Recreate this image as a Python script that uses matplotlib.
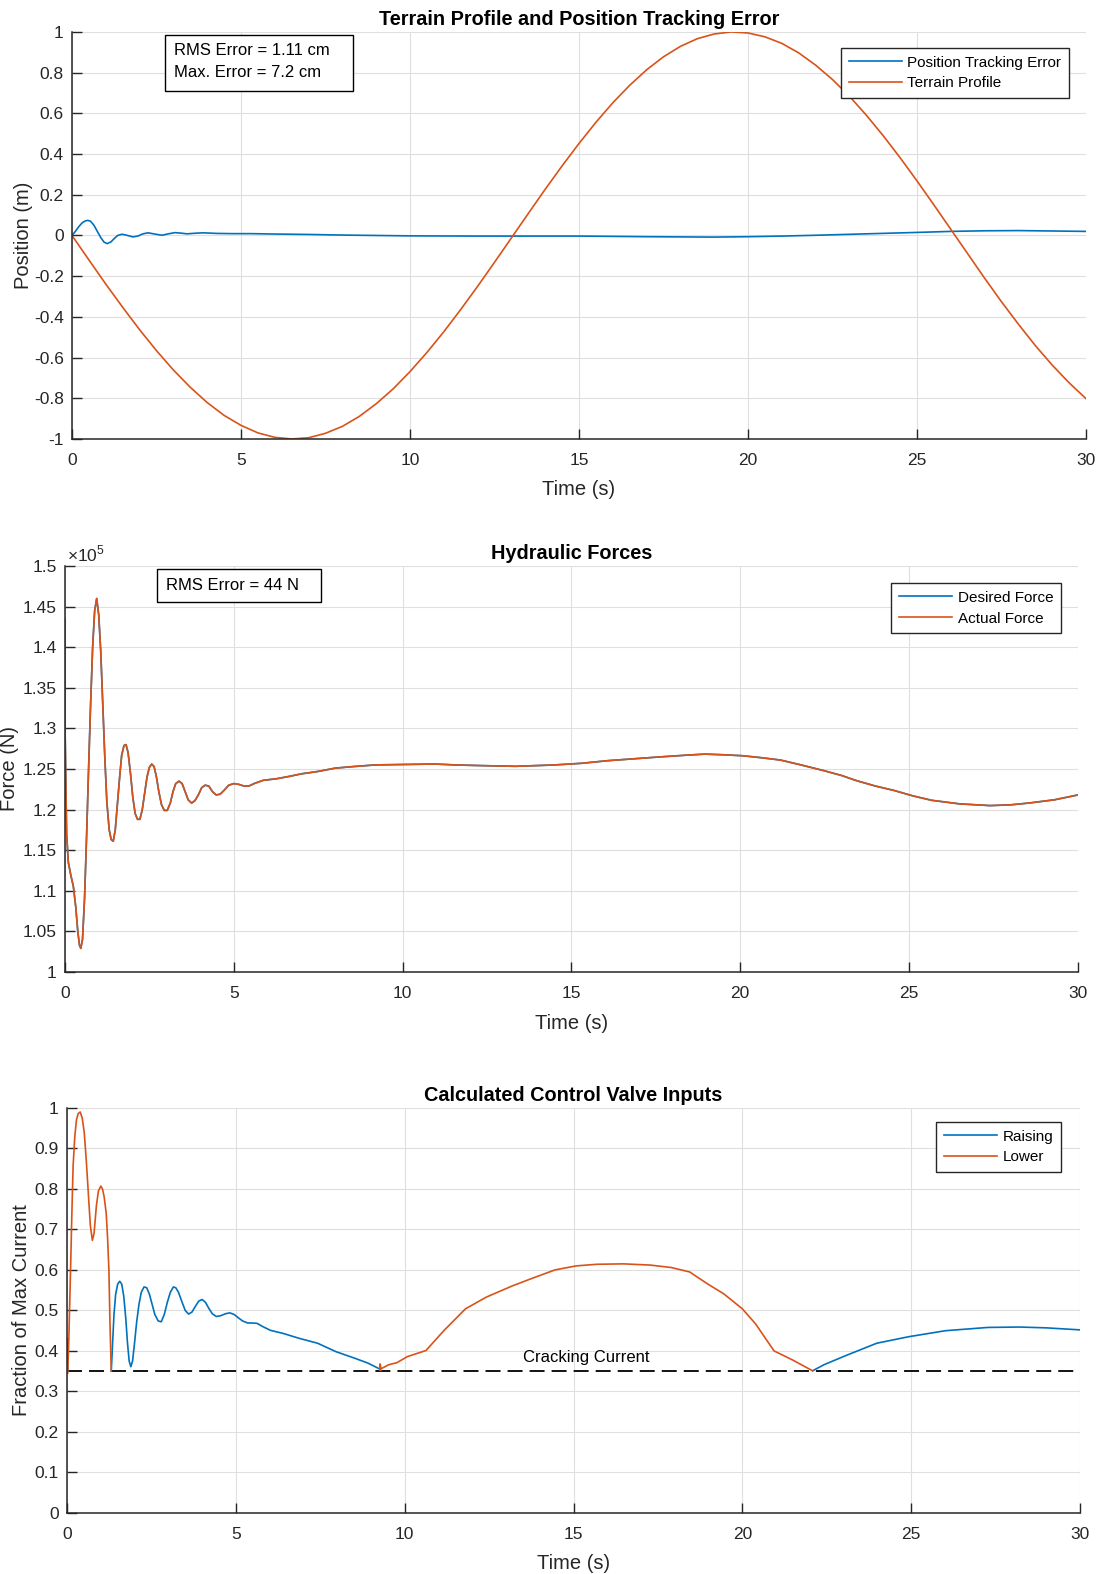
import numpy as np
import matplotlib
matplotlib.use("Agg")
import matplotlib.pyplot as plt
from matplotlib.patches import Rectangle

# ---- panel 1: terrain profile and position tracking error ----
t_terrain = [0, 0.5, 1, 1.5, 2, 2.5, 3, 3.5, 4, 4.5, 5, 5.5, 6, 6.5, 7, 7.5, 8, 8.5, 9, 9.5,
             10, 10.5, 11, 11.5, 12, 12.5, 13, 13.5, 14, 14.5, 15, 15.5, 16, 16.5, 17, 17.5,
             18, 18.5, 19, 19.5, 20, 20.5, 21, 21.5, 22, 22.5, 23, 23.5, 24, 24.5, 25, 25.5,
             26, 26.5, 27, 27.5, 28, 28.5, 29, 29.5, 30]
terrain = [0, -0.120, -0.239, -0.353, -0.463, -0.566, -0.661, -0.746, -0.821, -0.884, -0.933,
           -0.970, -0.992, -1.0, -0.994, -0.972, -0.938, -0.889, -0.827, -0.754, -0.669,
           -0.575, -0.473, -0.364, -0.250, -0.132, -0.012, 0.108, 0.227, 0.342, 0.452, 0.556,
           0.652, 0.738, 0.814, 0.878, 0.929, 0.967, 0.990, 1.0, 0.995, 0.976, 0.944, 0.897,
           0.837, 0.766, 0.684, 0.591, 0.490, 0.382, 0.268, 0.150, 0.030, -0.090, -0.210,
           -0.326, -0.436, -0.541, -0.637, -0.724, -0.802]

t_err = [0, 0.1, 0.2, 0.3, 0.4, 0.47, 0.55, 0.65, 0.75, 0.85, 0.95, 1.04, 1.15, 1.25, 1.35,
         1.48, 1.6, 1.8, 1.95, 2.1, 2.25, 2.45, 2.66, 2.85, 3.05, 3.25, 3.4, 3.65, 3.88, 4.3,
         4.76, 5.3, 6, 7, 8, 10, 12, 15, 17, 19, 20, 21, 22, 23.5, 25, 26, 27, 28, 29, 30]
pos_err = [0, 0.02, 0.043, 0.062, 0.072, 0.074, 0.07, 0.05, 0.02, -0.01, -0.033, -0.04,
           -0.032, -0.015, 0.0, 0.006, 0.002, -0.007, -0.003, 0.008, 0.013, 0.007, 0.001,
           0.008, 0.014, 0.011, 0.008, 0.011, 0.013, 0.01, 0.009, 0.009, 0.007, 0.005, 0.002,
           -0.002, -0.003, -0.003, -0.006, -0.008, -0.006, -0.003, 0.001, 0.008, 0.015, 0.02,
           0.023, 0.024, 0.022, 0.02]

# ---- panel 2: hydraulic forces (x 1e5 N) ----
t_force = [0, 0.02, 0.05, 0.1, 0.17, 0.25, 0.32, 0.38, 0.43, 0.47, 0.52, 0.58, 0.64, 0.7,
           0.76, 0.82, 0.88, 0.94, 1.0, 1.06, 1.12, 1.18, 1.24, 1.31, 1.37, 1.43, 1.49, 1.55,
           1.62, 1.68, 1.75, 1.81, 1.87, 1.94, 2.01, 2.08, 2.15, 2.22, 2.29, 2.36, 2.43, 2.5,
           2.57, 2.64, 2.71, 2.78, 2.86, 2.94, 3.03, 3.12, 3.2, 3.28, 3.38, 3.47, 3.56, 3.65,
           3.75, 3.85, 3.95, 4.05, 4.15, 4.26, 4.37, 4.48, 4.6, 4.72, 4.85, 5.0, 5.15, 5.3,
           5.45, 5.6, 5.87, 6.27, 6.66, 7.0, 7.5, 8.0, 8.55, 9.19, 10.0, 10.95, 11.6, 12.5,
           13.35, 14.47, 15.3, 16.07, 17.0, 17.67, 18.4, 18.95, 19.5, 20.07, 20.6, 21.19,
           21.8, 22.47, 23.0, 23.43, 24.0, 24.55, 25.1, 25.67, 26.5, 27.4, 28.0, 28.56,
           29.3, 30]
force_actual = [1.311, 1.25, 1.17, 1.135, 1.12, 1.105, 1.08, 1.05, 1.033, 1.029, 1.04, 1.09,
                1.166, 1.25, 1.33, 1.40, 1.445, 1.46, 1.44, 1.395, 1.33, 1.265, 1.21, 1.175,
                1.163, 1.161, 1.175, 1.205, 1.24, 1.267, 1.279, 1.28, 1.27, 1.245, 1.215,
                1.195, 1.188, 1.188, 1.2, 1.22, 1.24, 1.252, 1.256, 1.253, 1.24, 1.222, 1.206,
                1.199, 1.199, 1.208, 1.222, 1.232, 1.235, 1.232, 1.222, 1.212, 1.208, 1.211,
                1.218, 1.227, 1.23, 1.229, 1.222, 1.218, 1.219, 1.224, 1.23, 1.232, 1.231,
                1.229, 1.229, 1.232, 1.236, 1.238, 1.241, 1.244, 1.247, 1.251, 1.253, 1.255,
                1.2555, 1.2561, 1.2549, 1.254, 1.2533, 1.2549, 1.257, 1.2602, 1.263, 1.265,
                1.267, 1.2683, 1.2675, 1.2663, 1.264, 1.261, 1.255, 1.248, 1.242, 1.2358,
                1.229, 1.2236, 1.217, 1.2114, 1.207, 1.2049, 1.2058, 1.2081, 1.212, 1.218]
# desired force: initial spike, then identical to the actual force
t_force_des = [0] + t_force
force_desired = [1.435] + force_actual

# ---- panel 3: valve inputs (NaN = valve inactive) ----
t_raise = [0, 0.02, 0.03, 1.31, 1.35, 1.39, 1.44, 1.5, 1.56, 1.62, 1.68, 1.74, 1.79, 1.84,
           1.89, 1.94, 2.0, 2.06, 2.13, 2.2, 2.28, 2.36, 2.44, 2.52, 2.6, 2.7, 2.79, 2.88,
           2.97, 3.06, 3.15, 3.22, 3.3, 3.4, 3.5, 3.6, 3.7, 3.8, 3.9, 4.0, 4.1, 4.2, 4.3,
           4.42, 4.55, 4.7, 4.82, 4.95, 5.07, 5.2, 5.35, 5.5, 5.63, 5.8, 6.02, 6.41, 6.88,
           7.42, 7.97, 8.52, 8.91, 9.27, 9.3, 9.31, 22.08, 22.42, 23.05, 23.98, 24.92, 26.02,
           27.27, 28.2, 29.0, 30]
raising = [0.43, 0.35, np.nan, 0.35, 0.42, 0.49, 0.54, 0.565, 0.572, 0.565, 0.535, 0.48,
           0.42, 0.375, 0.361, 0.375, 0.42, 0.47, 0.515, 0.545, 0.558, 0.556, 0.54, 0.515,
           0.49, 0.474, 0.472, 0.49, 0.52, 0.545, 0.558, 0.556, 0.545, 0.522, 0.5, 0.491,
           0.496, 0.51, 0.523, 0.527, 0.52, 0.505, 0.492, 0.485, 0.487, 0.492, 0.494, 0.49,
           0.482, 0.474, 0.469, 0.469, 0.468, 0.46, 0.451, 0.443, 0.431, 0.419, 0.398, 0.382,
           0.37, 0.355, 0.352, np.nan, 0.351, 0.366, 0.388, 0.419, 0.435, 0.45, 0.458, 0.459,
           0.457, 0.452]

t_lower = [0.02, 0.05, 0.08, 0.11, 0.14, 0.18, 0.23, 0.28, 0.33, 0.39, 0.45, 0.51, 0.57,
           0.64, 0.69, 0.75, 0.8, 0.87, 0.93, 1.0, 1.05, 1.1, 1.16, 1.2, 1.24, 1.27, 1.31,
           1.32, 9.27, 9.27, 9.3, 9.53, 9.77, 10.08, 10.63, 11.17, 11.8, 12.42, 13.2, 13.83,
           14.45, 15.08, 15.7, 16.48, 17.27, 17.89, 18.44, 18.98, 19.45, 20.0, 20.39, 20.94,
           21.48, 22.08]
lower = [0.345, 0.42, 0.52, 0.62, 0.73, 0.857, 0.93, 0.971, 0.986, 0.99, 0.975, 0.939, 0.87,
         0.776, 0.71, 0.673, 0.69, 0.759, 0.795, 0.807, 0.8, 0.78, 0.74, 0.68, 0.6, 0.474,
         0.351, np.nan, 0.352, 0.368, 0.356, 0.366, 0.371, 0.386, 0.401, 0.451, 0.504,
         0.533, 0.561, 0.581, 0.6, 0.61, 0.614, 0.615, 0.612, 0.606, 0.595, 0.565, 0.541,
         0.504, 0.467, 0.4, 0.378, 0.351]

cracking_current = 0.35

BLUE = "#0072BD"
ORANGE = "#D95319"
AXC = "#262626"

plt.rcParams["font.family"] = ["Liberation Sans", "DejaVu Sans"]
plt.rcParams["axes.unicode_minus"] = False
plt.rcParams["mathtext.fontset"] = "custom"
plt.rcParams["mathtext.rm"] = "Liberation Sans"


def style_axes(ax, ylim, yticks, xlab_y, ylab_x, ylabel, title):
    ax.set_xlim(0, 30)
    ax.set_xticks(np.arange(0, 31, 5))
    ax.set_ylim(*ylim)
    ax.set_yticks(yticks)
    ax.set_yticklabels([f"{v + 0.0:g}" for v in yticks])
    ax.grid(True, color="#dfdfdf", linewidth=0.8)
    ax.set_axisbelow(True)
    ax.spines["top"].set_visible(False)
    ax.spines["right"].set_visible(False)
    for s in ["left", "bottom"]:
        ax.spines[s].set_color(AXC)
        ax.spines[s].set_linewidth(1.1)
    ax.tick_params(direction="in", length=7.2, width=1.0, colors=AXC, labelsize=12.5)
    ax.tick_params(axis="x", pad=10)
    ax.tick_params(axis="y", pad=6)
    ax.set_xlabel("Time (s)", fontsize=14.5, color=AXC)
    ax.xaxis.set_label_coords(0.5, xlab_y)
    ax.xaxis.label.set_verticalalignment("center")
    ax.set_ylabel(ylabel, fontsize=14.5, color=AXC)
    ax.yaxis.set_label_coords(ylab_x, 0.5)
    ax.yaxis.label.set_verticalalignment("center")
    ax.set_title(title, fontsize=14.3, fontweight="bold", pad=5)


def add_legend(ax, anchor):
    leg = ax.legend(loc="upper right", bbox_to_anchor=anchor, fontsize=11,
                    fancybox=False, framealpha=1, edgecolor=AXC, handlelength=3.5,
                    handletextpad=0.35, borderpad=0.5, labelspacing=0.45,
                    borderaxespad=0)
    leg.get_frame().set_linewidth(1.0)
    return leg


def text_box(ax, rect, lines):
    x0, y0, w, h = rect
    ax.add_patch(Rectangle((x0, y0), w, h, transform=ax.transAxes, facecolor="white",
                           edgecolor="black", linewidth=1.0, zorder=5))
    for tx, ty, s in lines:
        ax.text(tx, ty, s, transform=ax.transAxes, ha="left", va="center",
                fontsize=12, color="black", zorder=6)


fig = plt.figure(figsize=(10.99, 15.74), dpi=100)

# panel 1
ax1 = fig.add_axes([0.0655, 0.7211, 0.9227, 0.2586])
ax1.plot(t_err, pos_err, color=BLUE, lw=1.2, label="Position Tracking Error")
ax1.plot(t_terrain, terrain, color=ORANGE, lw=1.2, label="Terrain Profile")
style_axes(ax1, (-1, 1), np.round(np.arange(-1, 1.01, 0.2), 1), -0.123, -0.048,
           "Position (m)", "Terrain Profile and Position Tracking Error")
add_legend(ax1, (0.9832, 0.9607))
text_box(ax1, (0.0917, 0.855, 0.1854, 0.1376),
         [(0.1006, 0.9533, "RMS Error = 1.11 cm"), (0.1006, 0.8993, "Max. Error = 7.2 cm")])

# panel 2
ax2 = fig.add_axes([0.0591, 0.3825, 0.9217, 0.2579])
ax2.plot(t_force_des, force_desired, color=BLUE, lw=1.2, label="Desired Force")
ax2.plot(t_force, force_actual, color=ORANGE, lw=1.2, label="Actual Force")
style_axes(ax2, (1.0, 1.5), np.round(np.arange(1.0, 1.501, 0.05), 2), -0.127, -0.055,
           "Force (N)", "Hydraulic Forces")
ax2.text(0.002, 1.003, r"$\times10^{5}$", transform=ax2.transAxes, ha="left", va="bottom",
         fontsize=12.5, color=AXC)
add_legend(ax2, (0.9832, 0.958))
text_box(ax2, (0.0908, 0.9113, 0.1619, 0.0813), [(0.0997, 0.9532, "RMS Error = 44 N")])

# panel 3
ax3 = fig.add_axes([0.0610, 0.0388, 0.9217, 0.2573])
ax3.plot(t_raise, raising, color=BLUE, lw=1.2, label="Raising")
ax3.plot(t_lower, lower, color=ORANGE, lw=1.2, label="Lower")
ax3.axhline(cracking_current, color="black", lw=1.3, linestyle=(0, (8.3, 3.9)), zorder=1.5)
ax3.text(13.5, 0.385, "Cracking Current", fontsize=12, ha="left", va="center", color="black")
style_axes(ax3, (0, 1), np.round(np.arange(0, 1.01, 0.1), 1), -0.126, -0.045,
           "Fraction of Max Current", "Calculated Control Valve Inputs")
add_legend(ax3, (0.9812, 0.9654))

fig.savefig("out.png", dpi=100)
